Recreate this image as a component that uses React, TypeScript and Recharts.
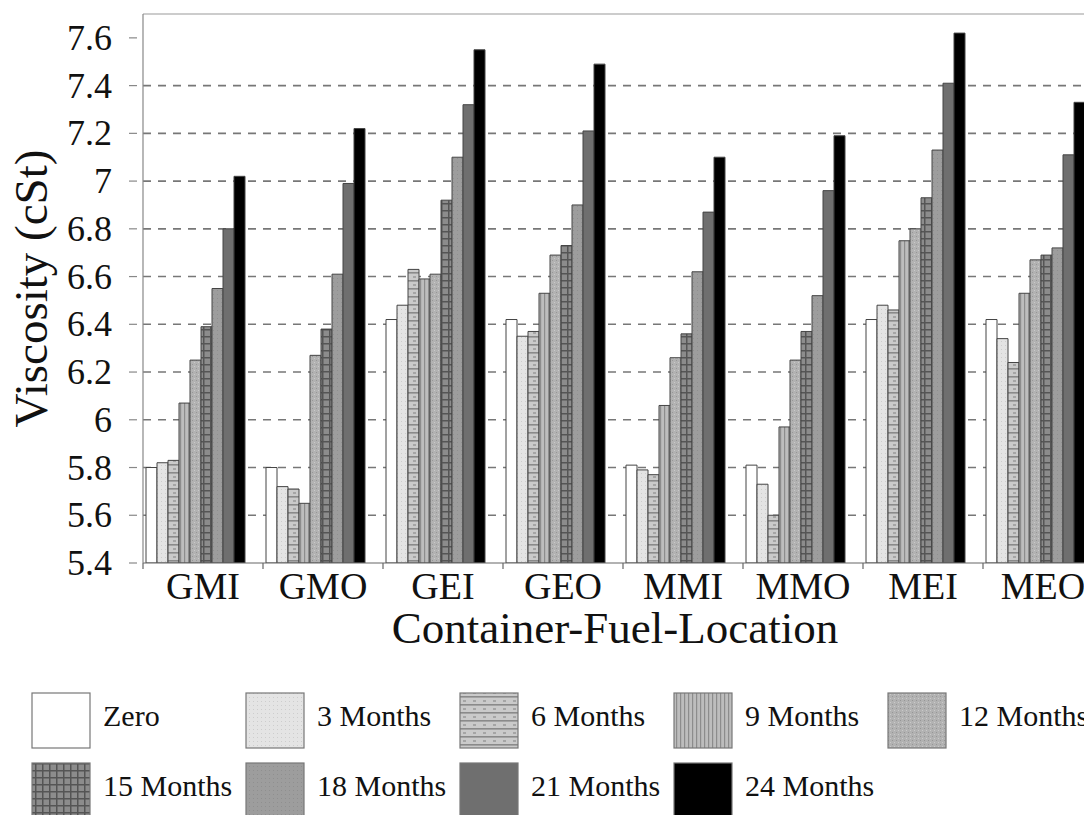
import React from 'react';
import { BarChart, Bar, XAxis, YAxis, CartesianGrid, ReferenceLine } from 'recharts';

const categories = ['GMI', 'GMO', 'GEI', 'GEO', 'MMI', 'MMO', 'MEI', 'MEO'];
const zero = [5.80, 5.80, 6.42, 6.42, 5.81, 5.81, 6.42, 6.42];
const m3 = [5.82, 5.72, 6.48, 6.35, 5.79, 5.73, 6.48, 6.34];
const m6 = [5.83, 5.71, 6.63, 6.37, 5.77, 5.60, 6.46, 6.24];
const m9 = [6.07, 5.65, 6.59, 6.53, 6.06, 5.97, 6.75, 6.53];
const m12 = [6.25, 6.27, 6.61, 6.69, 6.26, 6.25, 6.80, 6.67];
const m15 = [6.39, 6.38, 6.92, 6.73, 6.36, 6.37, 6.93, 6.69];
const m18 = [6.55, 6.61, 7.10, 6.90, 6.62, 6.52, 7.13, 6.72];
const m21 = [6.80, 6.99, 7.32, 7.21, 6.87, 6.96, 7.41, 7.11];
const m24 = [7.02, 7.22, 7.55, 7.49, 7.10, 7.19, 7.62, 7.33];

const seriesNames = ['Zero', '3 Months', '6 Months', '9 Months', '12 Months', '15 Months', '18 Months', '21 Months', '24 Months'];
const seriesValues = [zero, m3, m6, m9, m12, m15, m18, m21, m24];
const seriesKeys = ['zero', 'm3', 'm6', 'm9', 'm12', 'm15', 'm18', 'm21', 'm24'];
const yTicks = [5.4, 5.6, 5.8, 6, 6.2, 6.4, 6.6, 6.8, 7, 7.2, 7.4, 7.6];
const gridValues = [5.6, 5.8, 6, 6.2, 6.4, 6.6, 6.8, 7, 7.2, 7.4];

const fills = ['#ffffff', 'url(#p3)', 'url(#p6)', 'url(#p9)', 'url(#p12)', 'url(#p15)', 'url(#p18)', '#6f6f6f', '#000000'];

const data = categories.map((c, i) => {
  const row: any = { name: c };
  seriesKeys.forEach((k, j) => { row[k] = seriesValues[j][i]; });
  return row;
});

const FONT = '"Liberation Serif", "Times New Roman", serif';

const Patterns = () => (
  <defs>
    <pattern id="p3" width="4" height="4" patternUnits="userSpaceOnUse">
      <rect width="4" height="4" fill="#e4e4e4" />
      <rect x="1" y="1" width="1" height="1" fill="#cdcdcd" />
    </pattern>
    <pattern id="p6" width="10" height="8" patternUnits="userSpaceOnUse">
      <rect width="10" height="8" fill="#cacaca" />
      <rect x="0" y="0" width="10" height="1.6" fill="#8a8a8a" />
      <rect x="3" y="4" width="3" height="2" fill="#a5a5a5" />
    </pattern>
    <pattern id="p9" width="4" height="4" patternUnits="userSpaceOnUse">
      <rect width="4" height="4" fill="#bdbdbd" />
      <rect x="0" y="0" width="1.2" height="4" fill="#8c8c8c" />
    </pattern>
    <pattern id="p12" width="4" height="4" patternUnits="userSpaceOnUse">
      <rect width="4" height="4" fill="#b2b2b2" />
      <rect x="0" y="0" width="1" height="1" fill="#969696" />
      <rect x="2" y="2" width="1" height="1" fill="#cacaca" />
    </pattern>
    <pattern id="p15" width="7" height="7" patternUnits="userSpaceOnUse">
      <rect width="7" height="7" fill="#8c8c8c" />
      <rect x="0" y="0" width="7" height="1.5" fill="#555555" />
      <rect x="0" y="0" width="1.5" height="7" fill="#555555" />
    </pattern>
    <pattern id="p18" width="4" height="4" patternUnits="userSpaceOnUse">
      <rect width="4" height="4" fill="#9d9d9d" />
      <rect x="1" y="2" width="1" height="1" fill="#8f8f8f" />
    </pattern>
  </defs>
);

const YTick = (props: any) => {
  const { x, y, payload } = props;
  return (
    <g>
      <line x1={x - 14} x2={x - 6} y1={y} y2={y} stroke="#888" strokeWidth={1.2} />
      <text x={x - 31} y={y + 12} textAnchor="end" fontFamily={FONT} fontSize={36} fill="#111">
        {String(payload.value)}
      </text>
    </g>
  );
};

const XTick = (props: any) => {
  const { x, y, payload } = props;
  const half = payload && typeof payload.offset === 'number' && payload.offset > 0 ? payload.offset : 60;
  return (
    <g>
      <line x1={x - half} x2={x - half} y1={y} y2={y + 6} stroke="#666" strokeWidth={1.2} />
      <text x={x} y={y + 36} textAnchor="middle" fontFamily={FONT} fontSize={38} fill="#111">
        {payload.value}
      </text>
    </g>
  );
};

const XTitle = (props: any) => {
  const vb = props.viewBox || { x: 143, y: 563, width: 960, height: 60 };
  return (
    <text x={vb.x + vb.width / 2 - 8} y={vb.y + 80} textAnchor="middle" fontFamily={FONT} fontSize={45} fill="#111">
      Container-Fuel-Location
    </text>
  );
};

const YTitle = (props: any) => {
  const vb = props.viewBox || { x: 0, y: 14, width: 143, height: 549 };
  const cx = 31;
  const cy = vb.y + vb.height / 2;
  return (
    <text x={cx} y={cy} transform={`rotate(-90, ${cx}, ${cy})`} textAnchor="middle" dominantBaseline="central" fontFamily={FONT} fontSize={47} fill="#111">
      Viscosity (cSt)
    </text>
  );
};

const legendCols = [32, 246, 460, 674, 888];

const Legend = () => (
  <svg width={1084} height={815} style={{ position: 'absolute', left: 0, top: 0, pointerEvents: 'none' }}>
    {seriesNames.map((n, i) => {
      const col = i % 5;
      const row = Math.floor(i / 5);
      const sx = legendCols[col];
      const sy = row === 0 ? 693 : 763;
      return (
        <g key={n}>
          <rect x={sx} y={sy} width={58} height={55} fill={fills[i]} stroke="#777" strokeWidth={1.2} />
          <text x={sx + 71} y={row === 0 ? 726 : 796} fontFamily={FONT} fontSize={30} fill="#111">
            {n}
          </text>
        </g>
      );
    })}
  </svg>
);

export default function App() {
  return (
    <div style={{ position: 'absolute', left: 0, top: 0, width: 1084, height: 815, overflow: 'hidden', background: '#fff' }}>
      <BarChart
        width={1110}
        height={815}
        data={data}
        margin={{ top: 14, right: 7, left: 0, bottom: 192 }}
        barCategoryGap={3}
        barGap={0}
      >
        <Patterns />
        <CartesianGrid horizontal vertical={false} horizontalValues={gridValues} stroke="#777" strokeDasharray="8 7" strokeWidth={1.6} />
        <XAxis
          dataKey="name"
          height={60}
          tickLine={false}
          tickSize={0}
          tickMargin={0}
          tick={<XTick />}
          axisLine={{ stroke: '#666', strokeWidth: 1.2 }}
          interval={0}
          label={<XTitle />}
        />
        <YAxis
          width={143}
          domain={[5.4, 7.7]}
          ticks={yTicks}
          allowDataOverflow
          tickLine={false}
          tickSize={0}
          tickMargin={0}
          tick={<YTick />}
          axisLine={{ stroke: '#888', strokeWidth: 1.2 }}
          label={<YTitle />}
        />
        <ReferenceLine y={7.7} stroke="#999" strokeWidth={1.2} />
        {seriesKeys.map((k, i) => (
          <Bar key={k} dataKey={k} name={seriesNames[i]} fill={fills[i]} stroke="#444" strokeWidth={1} isAnimationActive={false} />
        ))}
        <Bar dataKey="slot" fill="none" isAnimationActive={false} />
      </BarChart>
      <Legend />
    </div>
  );
}
